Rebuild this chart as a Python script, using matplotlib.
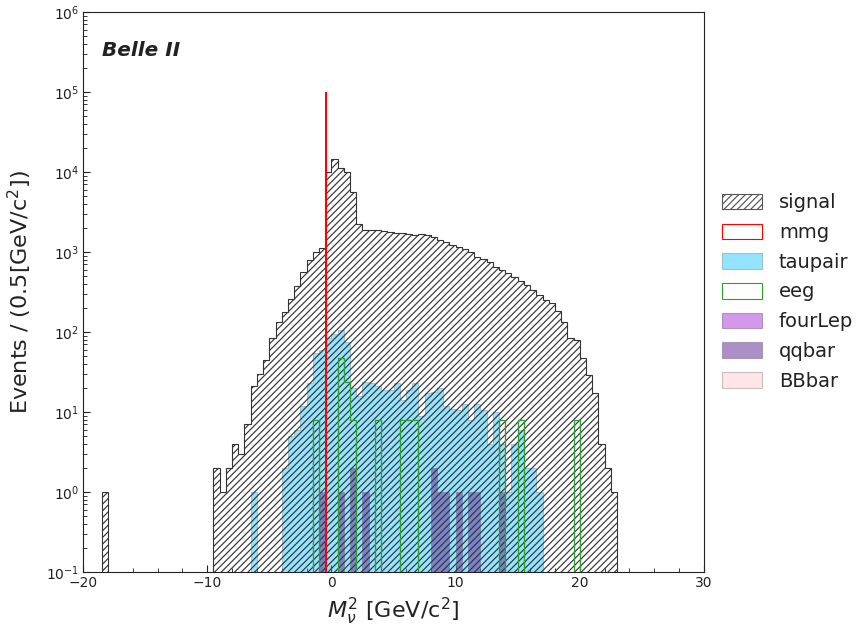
import numpy as np
import matplotlib
matplotlib.use("Agg")
import matplotlib.pyplot as plt
from matplotlib.patches import Patch
from matplotlib.ticker import AutoMinorLocator, MultipleLocator

# Binning of the missing-mass-squared histogram
bin_lo, bin_hi, bin_width = -20.0, 30.0, 0.5
edges = np.arange(bin_lo, bin_hi + bin_width / 2, bin_width)

# Events per bin (100 bins from -20 to 30)
signal_counts = [
    0, 0, 0, 1, 0, 0, 0, 0, 0, 0,
    0, 0, 0, 0, 0, 0, 0, 0, 0, 0,
    0, 2, 1, 2, 4, 3, 7, 21, 30, 45,
    83, 134, 180, 260, 380, 570, 800, 990, 1130, 10000,
    14700, 11300, 9900, 5600, 2240, 1900, 1880, 1860, 1840, 1790,
    1750, 1750, 1700, 1620, 1680, 1620, 1550, 1400, 1330, 1220,
    1140, 1080, 1000, 870, 810, 760, 655, 600, 540, 490,
    435, 390, 335, 290, 250, 230, 185, 134, 83, 79,
    47, 29, 17.5, 4, 2, 1, 0, 0, 0, 0,
    0, 0, 0, 0, 0, 0, 0, 0, 0, 0,
]

taupair_counts = [
    0, 0, 0, 0, 0, 0, 0, 0, 0, 0,
    0, 0, 0, 0, 0, 0, 0, 0, 0, 0,
    0, 0, 0, 0, 0, 0, 0, 1, 0, 0,
    0, 0, 2, 5, 6, 12, 23, 54, 59, 85,
    95, 107, 75, 20, 16, 24, 23, 21, 19, 19,
    23, 14, 19, 23, 9, 17.5, 18, 20, 12, 11,
    10.6, 12.6, 8, 12.6, 10.6, 4, 10, 4, 1, 4,
    6, 2, 2, 1, 0, 0, 0, 0, 0, 0,
    0, 0, 0, 0, 0, 0, 0, 0, 0, 0,
    0, 0, 0, 0, 0, 0, 0, 0, 0, 0,
]

eeg_counts = [
    0, 0, 0, 0, 0, 0, 0, 0, 0, 0,
    0, 0, 0, 0, 0, 0, 0, 0, 0, 0,
    0, 0, 0, 0, 0, 0, 0, 0, 0, 0,
    0, 0, 0, 0, 0, 0, 0, 8, 0, 0,
    0, 48, 24, 8, 0, 0, 0, 8, 0, 0,
    0, 8, 8, 8, 0, 0, 0, 0, 0, 0,
    0, 0, 0, 0, 0, 0, 0, 8, 0, 0,
    8, 0, 0, 0, 0, 0, 0, 0, 0, 8,
    0, 0, 0, 0, 0, 0, 0, 0, 0, 0,
    0, 0, 0, 0, 0, 0, 0, 0, 0, 0,
]

qqbar_counts = [
    0, 0, 0, 0, 0, 0, 0, 0, 0, 0,
    0, 0, 0, 0, 0, 0, 0, 0, 0, 0,
    0, 0, 0, 0, 0, 0, 0, 0, 0, 0,
    0, 0, 0, 0, 0, 0, 0, 0, 1, 0,
    0, 1, 0, 2, 0, 1, 0, 0, 0, 0,
    0, 0, 0, 0, 0, 0, 2, 1, 1, 0,
    1, 0, 1, 1, 0, 0, 0, 1, 0, 0,
    0, 0, 0, 0, 0, 0, 0, 0, 0, 0,
    0, 0, 0, 0, 0, 0, 0, 0, 0, 0,
    0, 0, 0, 0, 0, 0, 0, 0, 0, 0,
]

# mu-mu-gamma sample: all entries at a single value
mmg_position = -0.46
mmg_count = 1.0e5

legend_labels = ["signal", "mmg", "taupair", "eeg", "fourLep", "qqbar", "BBbar"]

# Styles
sig_edge = "#333333"
tau_face = (0.0, 0.75, 1.0, 0.42)
tau_edge = (0.45, 0.55, 0.6, 0.5)
qq_face = (0.4, 0.2, 0.6, 0.55)
qq_edge = (0.45, 0.4, 0.55, 0.5)
four_face = (0.58, 0.0, 0.83, 0.4)
four_edge = (0.45, 0.35, 0.5, 0.5)
bb_face = (1.0, 0.75, 0.8, 0.4)
bb_edge = (0.6, 0.55, 0.55, 0.5)
eeg_color = "#2ca02c"
mmg_color = "red"

plt.rcParams["hatch.linewidth"] = 1.05

DPI = 80
W, H = 857, 628
fig = plt.figure(figsize=(W / DPI, H / DPI), dpi=DPI)
ax = fig.add_axes([83 / W, 1 - 572 / H, (704 - 83) / W, (572 - 12) / H])
ax.set_yscale("log")

ax.stairs(taupair_counts, edges, fill=True, facecolor=tau_face, edgecolor=tau_edge,
          linewidth=0.8, zorder=2)
ax.stairs(qqbar_counts, edges, fill=True, facecolor=qq_face, edgecolor=qq_edge,
          linewidth=0.8, zorder=3)
ax.stairs(signal_counts, edges, fill=True, facecolor="none", edgecolor=sig_edge,
          hatch="////", linewidth=1.0, zorder=4)
ax.stairs(eeg_counts, edges, fill=False, edgecolor=eeg_color, linewidth=1.2, zorder=5)
ax.vlines(mmg_position, 1e-3, mmg_count, color=mmg_color, linewidth=1.8, zorder=6)

ax.set_xlim(bin_lo, bin_hi)
ax.set_ylim(0.1, 1e6)

ax.xaxis.set_major_locator(MultipleLocator(10))
ax.xaxis.set_minor_locator(AutoMinorLocator(5))
ax.tick_params(which="both", direction="in", top=False, right=False,
               labelsize=12.5, colors="#222222")
ax.tick_params(which="major", length=6.5, width=1.0)
ax.tick_params(which="minor", length=3.5, width=0.8)
for s in ax.spines.values():
    s.set_color("#222222")
    s.set_linewidth(1.0)

ax.set_xlabel(r"$M_{\nu}^{2}$ [GeV/c$^{2}$]", fontsize=20, color="#222222",
              labelpad=5)
ax.set_ylabel(r"Events / (0.5[GeV/c$^{2}$])", fontsize=20, color="#222222",
              labelpad=11)

ax.text(0.03, 0.932, "Belle II", transform=ax.transAxes, fontsize=18,
        fontweight="bold", fontstyle="italic", va="center", color="#222222")

handles = [
    Patch(facecolor="white", edgecolor="#555555", hatch="////"),
    Patch(facecolor="white", edgecolor=mmg_color),
    Patch(facecolor=tau_face, edgecolor=tau_edge),
    Patch(facecolor="white", edgecolor=eeg_color),
    Patch(facecolor=four_face, edgecolor=four_edge),
    Patch(facecolor=qq_face, edgecolor=qq_edge),
    Patch(facecolor=bb_face, edgecolor=bb_edge),
]
ax.legend(handles, legend_labels, loc="center left", bbox_to_anchor=(1.0, 0.5),
          frameon=False, fontsize=17.5, handlelength=2.1, handleheight=0.85,
          handletextpad=0.85, labelspacing=0.55, labelcolor="#222222")

fig.savefig("out.png", dpi=DPI)
